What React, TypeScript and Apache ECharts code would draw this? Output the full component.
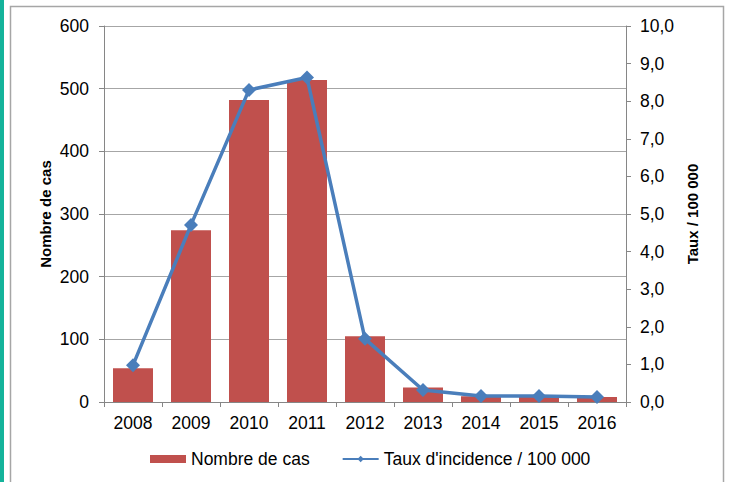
import React, { useEffect, useRef } from "react";
import * as echarts from "echarts";

const years = ["2008", "2009", "2010", "2011", "2012", "2013", "2014", "2015", "2016"];
const cases = [54, 274, 482, 514, 105, 23, 9, 8, 8];
const rates = [0.98, 4.71, 8.3, 8.63, 1.68, 0.32, 0.16, 0.16, 0.13];

export default function App() {
  const ref = useRef<HTMLDivElement>(null);
  useEffect(() => {
    if (!ref.current) return;
    const chart = echarts.init(ref.current, undefined, { renderer: "svg" });
    const font = "'Liberation Sans', Arial, sans-serif";
    const fs = 17.5;
    chart.setOption({
      animation: false,
      textStyle: { fontFamily: font },
      graphic: [
        { type: "rect", shape: { x: 0, y: 0, width: 4, height: 482 }, style: { fill: "#14B39B" } },
        {
          type: "rect",
          shape: { x: 10.5, y: 6.5, width: 713, height: 490 },
          style: { fill: "none", stroke: "#a6a6a6", lineWidth: 1.5 },
        },
      ],
      grid: { left: 104, right: 104, top: 26, bottom: 80 },
      legend: {
        bottom: 9,
        left: 145,
        itemGap: 32,
        textStyle: { fontSize: fs, color: "#000", fontFamily: font },
        data: [
          { name: "Nombre de cas", icon: "rect", itemStyle: { color: "#C0504D" } },
          { name: "Taux d'incidence / 100 000" },
        ],
        itemWidth: 36,
        itemHeight: 8,
      },
      xAxis: {
        type: "category",
        data: years,
        axisLine: { lineStyle: { color: "#868686" } },
        axisTick: { show: true, alignWithLabel: false, length: 5, lineStyle: { color: "#868686" } },
        axisLabel: { color: "#000", fontSize: fs, margin: 12, fontFamily: font },
      },
      yAxis: [
        {
          type: "value",
          min: 0,
          max: 600,
          interval: 100,
          name: "Nombre de cas",
          nameLocation: "middle",
          nameGap: 51,
          nameMoveOverlap: false,
          nameTextStyle: { fontSize: 15, fontWeight: "bold", color: "#000", fontFamily: font },
          axisLine: { show: true, lineStyle: { color: "#868686" } },
          axisTick: { show: true, length: 5, lineStyle: { color: "#868686" } },
          axisLabel: { color: "#000", fontSize: fs, margin: 15, fontFamily: font },
          splitLine: { show: true, lineStyle: { color: "#a6a6a6", width: 1 } },
        },
        {
          type: "value",
          min: 0,
          max: 10,
          interval: 1,
          name: "Taux / 100 000",
          nameLocation: "middle",
          nameGap: 59,
          nameRotate: 90,
          nameTextStyle: { fontSize: 15, fontWeight: "bold", color: "#000", fontFamily: font },
          axisLine: { show: true, lineStyle: { color: "#868686" } },
          axisTick: { show: true, length: 5, lineStyle: { color: "#868686" } },
          axisLabel: {
            color: "#000",
            fontSize: fs,
            margin: 14,
            fontFamily: font,
            formatter: (v: number) => v.toFixed(1).replace(".", ","),
          },
          splitLine: { show: false },
        },
      ],
      series: [
        {
          name: "Nombre de cas",
          type: "bar",
          data: cases,
          barWidth: 40,
          itemStyle: { color: "#C0504D" },
        },
        {
          name: "Taux d'incidence / 100 000",
          type: "line",
          yAxisIndex: 1,
          data: rates,
          symbol: "diamond",
          symbolSize: 14,
          lineStyle: { color: "#4A7EBB", width: 3.5 },
          itemStyle: { color: "#4A7EBB" },
        },
      ],
    });
    return () => chart.dispose();
  }, []);
  return (
    <div
      ref={ref}
      style={{ position: "fixed", left: 0, top: 0, width: 730, height: 482, background: "#fff" }}
    />
  );
}
